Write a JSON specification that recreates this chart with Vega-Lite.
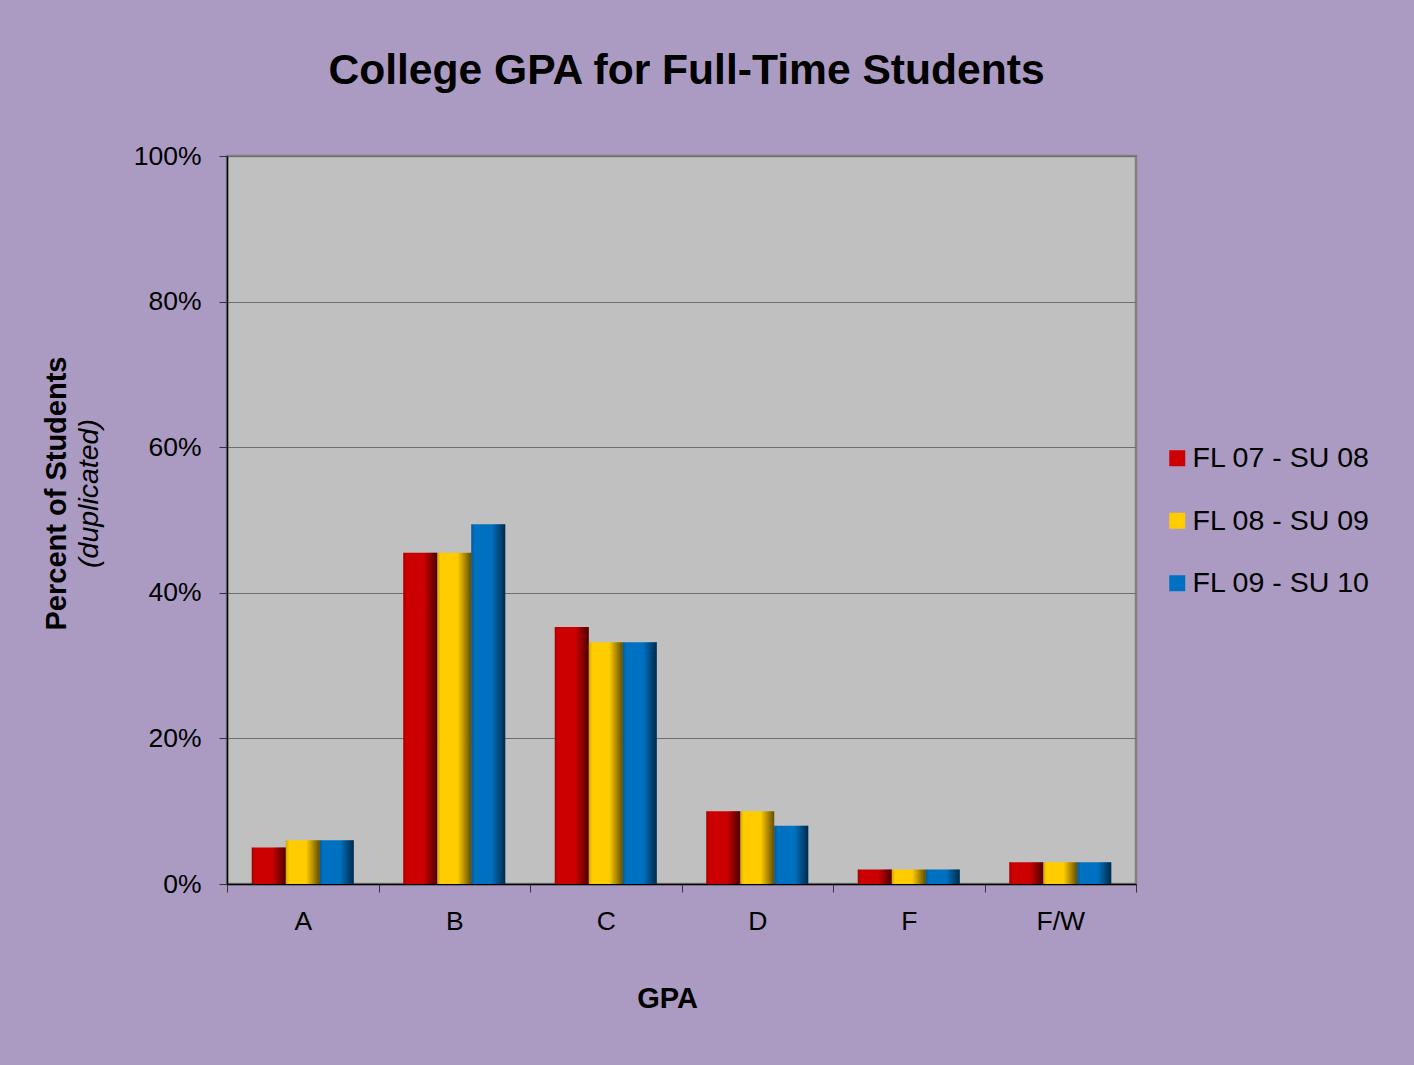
{
  "$schema": "https://vega.github.io/schema/vega-lite/v6.json",
  "width": 909,
  "height": 728,
  "autosize": {"type": "none"},
  "padding": {"left": 227, "top": 156, "right": 278, "bottom": 181},
  "background": "#ab9bc3",
  "title": {
    "text": "College GPA for Full-Time Students",
    "fontSize": 42.6,
    "font": "Liberation Sans",
    "fontWeight": "bold",
    "color": "#000000",
    "anchor": "middle",
    "dx": 5,
    "offset": 50
  },
  "config": {
    "font": "Liberation Sans",
    "view": {"fill": "#c0c0c0", "stroke": "#808080", "strokeWidth": 2.5}
  },
  "data": {
    "values": [
      {"gpa": "A", "term": "FL 07 - SU 08", "pct": 5},
      {"gpa": "A", "term": "FL 08 - SU 09", "pct": 6},
      {"gpa": "A", "term": "FL 09 - SU 10", "pct": 6},
      {"gpa": "B", "term": "FL 07 - SU 08", "pct": 45.5},
      {"gpa": "B", "term": "FL 08 - SU 09", "pct": 45.5},
      {"gpa": "B", "term": "FL 09 - SU 10", "pct": 49.4},
      {"gpa": "C", "term": "FL 07 - SU 08", "pct": 35.3},
      {"gpa": "C", "term": "FL 08 - SU 09", "pct": 33.2},
      {"gpa": "C", "term": "FL 09 - SU 10", "pct": 33.2},
      {"gpa": "D", "term": "FL 07 - SU 08", "pct": 10},
      {"gpa": "D", "term": "FL 08 - SU 09", "pct": 10},
      {"gpa": "D", "term": "FL 09 - SU 10", "pct": 8},
      {"gpa": "F", "term": "FL 07 - SU 08", "pct": 2},
      {"gpa": "F", "term": "FL 08 - SU 09", "pct": 2},
      {"gpa": "F", "term": "FL 09 - SU 10", "pct": 2},
      {"gpa": "F/W", "term": "FL 07 - SU 08", "pct": 3},
      {"gpa": "F/W", "term": "FL 08 - SU 09", "pct": 3},
      {"gpa": "F/W", "term": "FL 09 - SU 10", "pct": 3}
    ]
  },
  "layer": [
    {
      "mark": {"type": "bar"},
      "encoding": {
        "x": {
          "field": "gpa",
          "type": "nominal",
          "sort": ["A", "B", "C", "D", "F", "F/W"],
          "scale": {"paddingInner": 0, "paddingOuter": 0},
          "axis": {
            "title": "GPA",
            "titleFontSize": 29,
            "titleFontWeight": "bold",
            "titleColor": "#000000",
            "titlePadding": 50,
            "titleX": 440,
            "labelAngle": 0,
            "labelFontSize": 26.5,
            "labelColor": "#000000",
            "labelPadding": 16,
            "tickBand": "extent",
            "tickSize": 8,
            "tickColor": "#333333",
            "domainColor": "#000000",
            "domainWidth": 1.5
          }
        },
        "xOffset": {
          "field": "term",
          "type": "nominal",
          "scale": {"paddingInner": 0, "paddingOuter": 0.728}
        },
        "y": {
          "field": "pct",
          "type": "quantitative",
          "scale": {"domain": [0, 100]},
          "axis": {
            "values": [0, 20, 40, 60, 80, 100],
            "labelExpr": "datum.value + '%'",
            "labelFontSize": 26.5,
            "labelColor": "#000000",
            "labelPadding": 18,
            "tickSize": 8,
            "tickColor": "#333333",
            "domainColor": "#000000",
            "domainWidth": 1.5,
            "grid": true,
            "gridColor": "#6e6e6e",
            "gridWidth": 1,
            "title": "Percent of Students",
            "titleFontSize": 29,
            "titleFontWeight": "bold",
            "titleColor": "#000000",
            "titleY": 337,
            "titlePadding": 62
          }
        },
        "color": {
          "field": "term",
          "type": "nominal",
          "scale": {
            "domain": ["FL 07 - SU 08", "FL 08 - SU 09", "FL 09 - SU 10"],
            "range": ["#cc0000", "#ffcc00", "#0070c0"]
          },
          "legend": {
            "title": null,
            "orient": "none",
            "legendX": 936,
            "legendY": 288,
            "symbolType": "square",
            "symbolSize": 256,
            "symbolStrokeWidth": 0,
            "symbolOpacity": 1,
            "labelFontSize": 28.5,
            "labelColor": "#000000",
            "labelOffset": 1,
            "rowPadding": 33.5,
            "labelLimit": 300
          }
        }
      }
    },
    {
      "mark": {
        "type": "bar",
        "fill": {
          "gradient": "linear",
          "x1": 0, "y1": 0, "x2": 1, "y2": 0,
          "stops": [
            {"offset": 0, "color": "rgba(0,0,0,0.18)"},
            {"offset": 0.1, "color": "rgba(0,0,0,0)"},
            {"offset": 0.6, "color": "rgba(0,0,0,0)"},
            {"offset": 1, "color": "rgba(0,0,0,0.62)"}
          ]
        }
      },
      "encoding": {
        "x": {"field": "gpa", "type": "nominal", "sort": ["A", "B", "C", "D", "F", "F/W"]},
        "xOffset": {"field": "term", "type": "nominal"},
        "y": {
          "field": "pct",
          "type": "quantitative",
          "axis": {
            "orient": "left",
            "labels": false,
            "ticks": false,
            "domain": false,
            "grid": false,
            "title": "(duplicated)",
            "titleFontSize": 28.5,
            "titleFontWeight": "normal",
            "titleFontStyle": "italic",
            "titleColor": "#000000",
            "titleY": 337,
            "titlePadding": 124
          }
        }
      }
    }
  ],
  "resolve": {"axis": {"y": "independent"}}
}
